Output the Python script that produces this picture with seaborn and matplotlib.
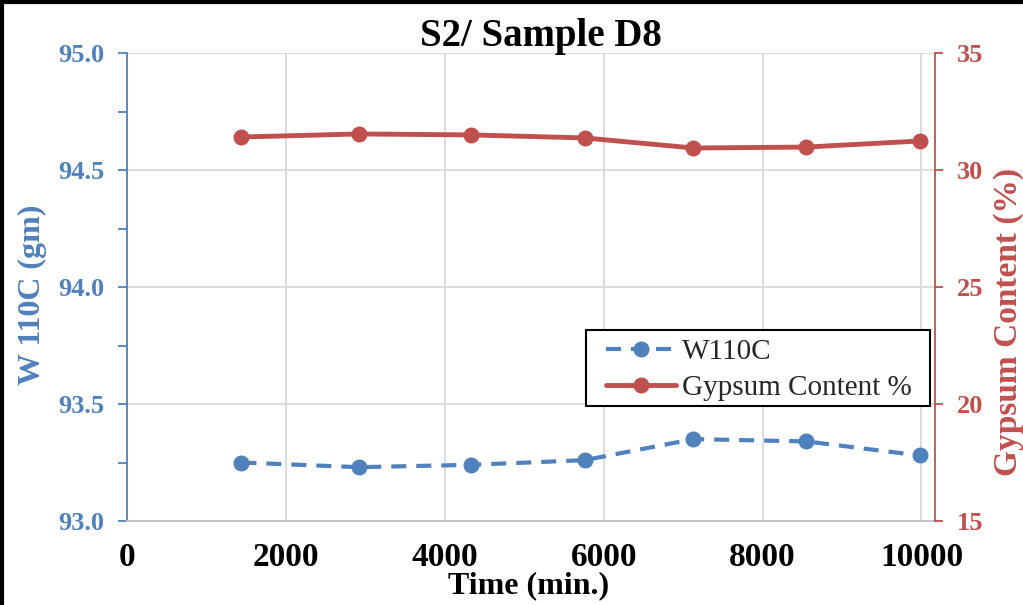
import matplotlib
matplotlib.use("Agg")
import matplotlib.pyplot as plt
import seaborn as sns
import pandas as pd
from matplotlib.lines import Line2D
from matplotlib.patches import Rectangle
from matplotlib.ticker import MultipleLocator

time_min = [1440, 2920, 4330, 5760, 7130, 8550, 9980]
w110c = [93.25, 93.23, 93.24, 93.26, 93.35, 93.34, 93.28]
gypsum = [31.41, 31.54, 31.50, 31.37, 30.94, 30.98, 31.24]
x_ticks = [0, 2000, 4000, 6000, 8000, 10000]
left_ticks = [93.0, 93.5, 94.0, 94.5, 95.0]
right_ticks = [15, 20, 25, 30, 35]

BLUE = "#4F81BD"
RED = "#C0504D"
GRID = "#D9D9D9"
W, H = 1023, 605

sns.set_theme(style="white")
plt.rcParams["font.family"] = ["Liberation Serif", "DejaVu Serif"]

df = pd.DataFrame({"t": time_min, "w": w110c, "g": gypsum})

fig = plt.figure(figsize=(W / 100, H / 100), dpi=100)
ax = fig.add_axes([127 / W, 1 - 521 / H, (935 - 127) / W, (521 - 53) / H])
ax2 = ax.twinx()

DASH = (0, (3.6, 2.4))
MS = 11.5
sns.lineplot(data=df, x="t", y="w", ax=ax, color=BLUE, lw=3, marker="o",
             markersize=MS, markeredgewidth=0, linestyle=DASH, legend=False)
sns.lineplot(data=df, x="t", y="g", ax=ax2, color=RED, lw=3.5, marker="o",
             markersize=MS, markeredgewidth=0, legend=False)

ax.set_xlim(0, 10170)
ax.set_ylim(93.0, 95.0)
ax2.set_ylim(15, 35)
ax.set_xticks(x_ticks)
ax.set_yticks(left_ticks)
ax.yaxis.set_minor_locator(MultipleLocator(0.25))
ax2.set_yticks(right_ticks)
ax.set_yticklabels([f"{v:.1f}" for v in left_ticks])
ax2.set_yticklabels([str(v) for v in right_ticks])

ax.grid(True, which="major", color=GRID, lw=1.3)
ax.set_axisbelow(True)
ax2.grid(False)

for a in (ax, ax2):
    for s in a.spines.values():
        s.set_visible(False)
ax.spines["left"].set_visible(True)
ax.spines["left"].set_color(BLUE)
ax.spines["left"].set_linewidth(1.3)
ax.spines["bottom"].set_visible(True)
ax.spines["bottom"].set_color("#BFBFBF")
ax.spines["bottom"].set_linewidth(1.3)
ax2.spines["right"].set_visible(True)
ax2.spines["right"].set_color(RED)
ax2.spines["right"].set_linewidth(1.3)

ax.tick_params(axis="y", which="major", colors=BLUE, labelsize=19, length=6.5, width=1.3,
               direction="out", left=True, pad=10)
ax.tick_params(axis="y", which="minor", colors=BLUE, length=6.5, width=1.3,
               direction="out", left=True)
ax.tick_params(axis="x", colors="black", labelsize=24, length=0, pad=15)
ax2.tick_params(axis="y", colors=RED, labelsize=19, length=6, width=1.3,
                direction="out", right=True, pad=10)
for lab in ax.get_xticklabels() + ax.get_yticklabels() + ax2.get_yticklabels():
    lab.set_fontweight("bold")

ax.set_xlabel("")
ax.set_ylabel("")
ax2.set_ylabel("")

fig.text(541 / W, 1 - 46 / H, "S2/ Sample D8", fontsize=28, fontweight="bold",
         ha="center", va="baseline", color="black")
fig.text(529 / W, 1 - 593 / H, "Time (min.)", fontsize=23, fontweight="bold",
         ha="center", va="baseline", color="black")
fig.text(32 / W, 1 - 295 / H, "W 110C (gm)", fontsize=23, fontweight="bold",
         ha="center", va="center", rotation=90, color=BLUE)
fig.text(1008 / W, 1 - 322 / H, "Gypsum Content (%)", fontsize=24, fontweight="bold",
         ha="center", va="center", rotation=90, color=RED)

handles = [
    Line2D([], [], color=BLUE, lw=3, marker="o", markersize=MS, markeredgewidth=0, linestyle=DASH),
    Line2D([], [], color=RED, lw=3.5, marker="o", markersize=MS, markeredgewidth=0),
]
leg = fig.legend(handles, ["W110C", "Gypsum Content %"], loc="upper left",
                 bbox_to_anchor=(606 / W, 1 - 339 / H), fontsize=21,
                 frameon=False, borderpad=0, handlelength=2.4, handletextpad=0.2,
                 labelspacing=0.33, borderaxespad=0)
fig.patches.append(Rectangle((586 / W, 1 - 406 / H), (930 - 586) / W, (406 - 330) / H,
                             transform=fig.transFigure, fill=True, facecolor="white",
                             edgecolor="black", lw=1.5, zorder=2))
leg.set_zorder(3)

fig.add_artist(Line2D([0.002, 0.002], [0, 1], transform=fig.transFigure, color="black", lw=3))
fig.add_artist(Line2D([0, 1], [0.997, 0.997], transform=fig.transFigure, color="black", lw=3))

fig.savefig("out.png", dpi=100)
